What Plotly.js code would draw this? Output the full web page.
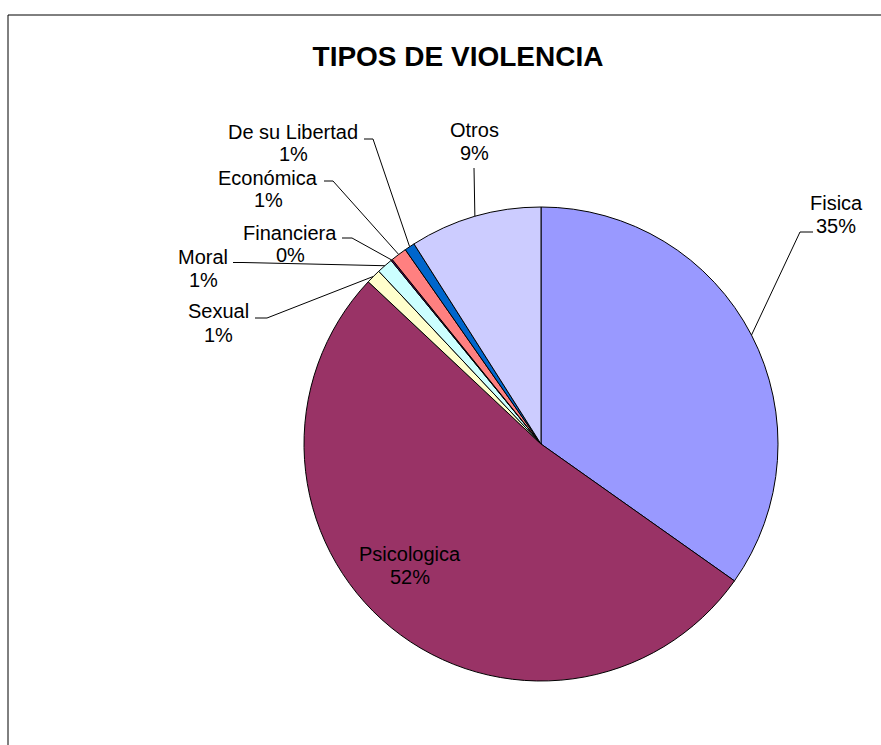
<!DOCTYPE html>
<html>
<head>
<meta charset="utf-8">
<script src="https://cdn.plot.ly/plotly-3.0.1.min.js"></script>
<style>html,body{margin:0;padding:0;background:#fff;}#chart{width:881px;height:745px;}</style>
</head>
<body>
<div id="chart"></div>
<script>
// ---- data ----
const categories = ["Fisica", "Psicologica", "Sexual", "Moral", "Financiera", "Económica", "De su Libertad", "Otros"];
const values = [34.8, 52.2, 1.0, 1.1, 0.1, 1.1, 0.7, 9.0];
const colors = ["#9999FF", "#993366", "#FFFFCC", "#CCFFFF", "#660066", "#FF8080", "#0066CC", "#CCCCFF"];
const chartTitle = "TIPOS DE VIOLENCIA";

// ---- layout constants (pixels) ----
const W = 881, H = 745;
const CX = 541, CY = 444, R = 237;
const FONT = "Liberation Sans, Arial, sans-serif";
const LINE = 23; // spacing between name and percent lines
// label block centres and leader elbows (index -> placement)
const labelPos = {
  0: {x: 836, y: 214, elbow: [[813, 232], [800, 232]]},
  1: {x: 410, y: 565, elbow: null},
  2: {x: 218, y: 323, elbow: [[255, 318], [267, 318]]},
  3: {x: 203, y: 268, elbow: [[233, 262.5], [243, 262.5]]},
  4: {x: 290, y: 244, elbow: [[342, 238], [352, 238]]},
  5: {x: 268, y: 189, elbow: [[324, 181], [333, 181]]},
  6: {x: 293, y: 143, elbow: [[364, 139], [373, 139]]},
  7: {x: 475, y: 141, elbow: [[474, 168]]}
};

const px = x => x / W;
const py = y => 1 - y / H;

const total = values.reduce((a, b) => a + b, 0);
const annotations = [];
const shapes = [];

// border of the chart area
shapes.push({type: "rect", xref: "paper", yref: "paper",
  x0: px(8), x1: px(W + 20), y0: py(H + 20), y1: py(15),
  line: {color: "#000", width: 1}, fillcolor: "rgba(0,0,0,0)"});

let cum = 0;
values.forEach((v, i) => {
  const mid = (cum + v / 2) / total * 2 * Math.PI;
  cum += v;
  const rimX = CX + R * Math.sin(mid);
  const rimY = CY - R * Math.cos(mid);
  const pct = Math.round(v / total * 100) + "%";
  const p = labelPos[i];
  [[categories[i], p.y - LINE / 2], [pct, p.y + LINE / 2]].forEach(([t, yy]) => {
    annotations.push({
      xref: "paper", yref: "paper", x: px(p.x), y: py(yy),
      xanchor: "center", yanchor: "middle", showarrow: false,
      text: t, align: "center", borderpad: 0,
      font: {family: FONT, size: 20, color: "#000"}
    });
  });
  if (p.elbow) {
    const pts = p.elbow.concat([[rimX, rimY]]);
    const d = pts.map((q, k) => (k ? "L" : "M") + px(q[0]) + "," + py(q[1])).join(" ");
    shapes.push({type: "path", xref: "paper", yref: "paper", path: d,
      line: {color: "#000", width: 1}});
  }
});

const trace = {
  type: "pie",
  labels: categories,
  values: values,
  sort: false,
  direction: "clockwise",
  rotation: 0,
  textinfo: "none",
  hoverinfo: "label+percent",
  marker: {colors: colors, line: {color: "#000", width: 1}},
  domain: {x: [px(CX - R), px(CX + R)], y: [py(CY + R), py(CY - R)]},
  showlegend: false
};

const layout = {
  width: W, height: H,
  margin: {l: 0, r: 0, t: 0, b: 0},
  paper_bgcolor: "#fff",
  showlegend: false,
  title: {text: "<b>" + chartTitle + "</b>", x: px(458), y: py(56),
    xanchor: "center", yanchor: "middle",
    font: {family: FONT, size: 28, color: "#000"}},
  annotations: annotations,
  shapes: shapes
};

Plotly.newPlot("chart", [trace], layout, {displayModeBar: false, staticPlot: true});
</script>
</body>
</html>
